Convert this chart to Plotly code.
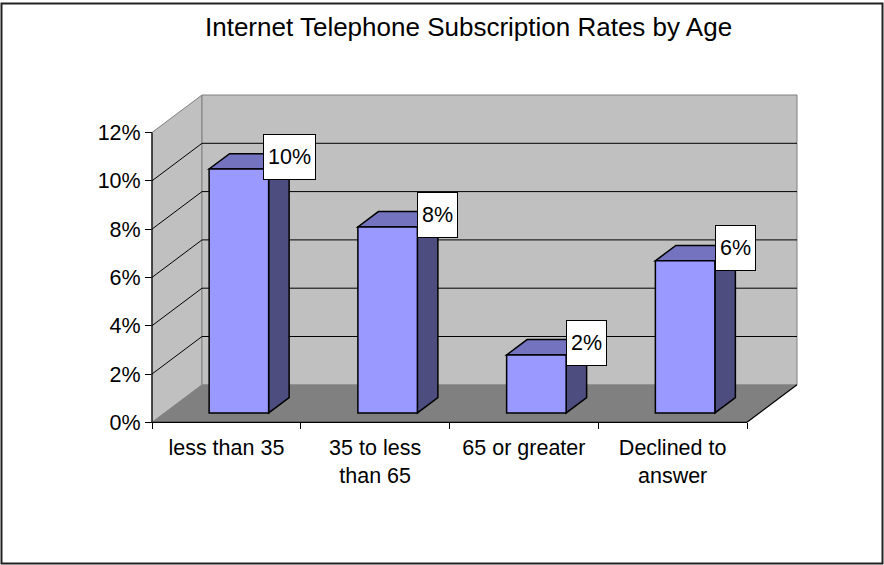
import plotly.graph_objects as go

# ---- data ----
categories = ["less than 35", "35 to less<br>than 65", "65 or greater", "Declined to<br>answer"]
values = [10.1, 7.7, 2.4, 6.3]          # percent
y_ticks = [0, 2, 4, 6, 8, 10, 12]
y_tick_labels = [f"{v}%" for v in y_ticks]
title_text = "Internet Telephone Subscription Rates by Age"

# ---- styling / geometry (pixels of the 884x565 canvas) ----
W, H = 884, 565
X0_PX = 152.0          # front-left edge of category axis
CAT_PX = 148.75        # pixels per category
Y0_PX = 422.3          # y of 0 on the front axis
UNIT_PX = 24.15        # pixels per 1 %
DEPTH_DX_PX, DEPTH_DY_PX = 50.0, 37.5
YMAX = 12
N = len(categories)

DX = DEPTH_DX_PX / CAT_PX      # depth offset in x data units
DY = DEPTH_DY_PX / UNIT_PX     # depth offset in y data units
F0, F1 = 0.25, 0.66            # bar front/back depth fractions
BAR_W = 0.4

FONT = "Liberation Sans, Arial, sans-serif"
TICK_SIZE = 21.5
C_WALL = "#C0C0C0"
C_FLOOR = "#808080"
C_EDGE = "#808080"
C_FRONT = "#9999FF"
C_TOP = "#7373BF"
C_SIDE = "#4D4D80"

x_range = [-X0_PX / CAT_PX, (W - X0_PX) / CAT_PX]
y_range = [-(H - Y0_PX) / UNIT_PX, Y0_PX / UNIT_PX]


def poly(pts):
    return "M " + " L ".join(f"{x:.5f},{y:.5f}" for x, y in pts) + " Z"


shapes = []
# side wall
shapes.append(dict(type="path", xref="x", yref="y",
                   path=poly([(0, 0), (0, YMAX), (DX, YMAX + DY), (DX, DY)]),
                   fillcolor=C_WALL, line=dict(color=C_EDGE, width=1)))
# back wall
shapes.append(dict(type="rect", xref="x", yref="y", x0=DX, y0=DY, x1=N + DX, y1=YMAX + DY,
                   fillcolor=C_WALL, line=dict(color=C_EDGE, width=1)))
# floor
shapes.append(dict(type="path", xref="x", yref="y",
                   path=poly([(0, 0), (N, 0), (N + DX, DY), (DX, DY)]),
                   fillcolor=C_FLOOR, line=dict(width=0)))
# gridlines
for v in y_ticks[1:-1]:
    shapes.append(dict(type="line", xref="x", yref="y", x0=DX, y0=v + DY, x1=N + DX, y1=v + DY,
                       line=dict(color="black", width=1)))
    shapes.append(dict(type="line", xref="x", yref="y", x0=0, y0=v, x1=DX, y1=v + DY,
                       line=dict(color="black", width=1)))
# axis lines
shapes.append(dict(type="line", xref="x", yref="y", x0=0, y0=0, x1=0, y1=YMAX,
                   line=dict(color="black", width=1.2)))
shapes.append(dict(type="line", xref="x", yref="y", x0=0, y0=0, x1=N, y1=0,
                   line=dict(color="black", width=1.2)))
shapes.append(dict(type="line", xref="x", yref="y", x0=N, y0=0, x1=N + DX, y1=DY,
                   line=dict(color="black", width=1.2)))

annotations = []
for i, v in enumerate(values):
    c = i + 0.5
    xl0 = c - BAR_W / 2 + F0 * DX
    xr0 = c + BAR_W / 2 + F0 * DX
    xl1 = c - BAR_W / 2 + F1 * DX
    xr1 = c + BAR_W / 2 + F1 * DX
    yb0, yt0 = F0 * DY, v + F0 * DY
    yb1, yt1 = F1 * DY, v + F1 * DY
    edge = dict(color="black", width=1.5)
    # side face
    shapes.append(dict(type="path", xref="x", yref="y",
                       path=poly([(xr0, yb0), (xr0, yt0), (xr1, yt1), (xr1, yb1)]),
                       fillcolor=C_SIDE, line=edge))
    # top face
    shapes.append(dict(type="path", xref="x", yref="y",
                       path=poly([(xl0, yt0), (xr0, yt0), (xr1, yt1), (xl1, yt1)]),
                       fillcolor=C_TOP, line=edge))
    # front face
    shapes.append(dict(type="rect", xref="x", yref="y", x0=xl0, y0=yb0, x1=xr0, y1=yt0,
                       fillcolor=C_FRONT, line=edge))
    # data label
    annotations.append(dict(x=xr1, y=yt1, xref="x", yref="y", text=f"{round(v)}%",
                            showarrow=False, xanchor="center", yanchor="middle", yshift=-3,
                            font=dict(family=FONT, size=TICK_SIZE, color="black"),
                            bgcolor="white", bordercolor="black", borderwidth=1,
                            borderpad=4, height=36))

# title
annotations.append(dict(x=468 / W, y=1 - 27 / H, xref="paper", yref="paper", text=title_text,
                        showarrow=False, xanchor="center", yanchor="middle",
                        font=dict(family=FONT, size=26, color="black")))

# outer border
shapes.append(dict(type="rect", xref="paper", yref="paper",
                   x0=1.5 / W, y0=1 - 563.5 / H, x1=882.5 / W, y1=1 - 3.5 / H,
                   line=dict(color="#222222", width=2), fillcolor="rgba(0,0,0,0)"))

fig = go.Figure()
fig.add_trace(go.Scatter(x=[i + 0.5 for i in range(N)], y=values, mode="markers",
                         marker=dict(opacity=0), hoverinfo="skip", showlegend=False))

fig.update_layout(
    width=W, height=H, margin=dict(l=0, r=0, t=0, b=0),
    paper_bgcolor="white", plot_bgcolor="white",
    shapes=shapes, annotations=annotations, showlegend=False,
    font=dict(family=FONT, size=TICK_SIZE, color="black"),
    xaxis=dict(range=x_range, anchor="free", position=(H - Y0_PX) / H,
               tickmode="array", tickvals=[i + 0.5 for i in range(N)], ticktext=categories,
               ticks="outside", ticklen=6, tickcolor="rgba(0,0,0,0)",
               minor=dict(tickmode="array", tickvals=list(range(N + 1)), ticks="outside",
                          ticklen=6, tickcolor="black", showgrid=False),
               showgrid=False, zeroline=False, showline=False,
               tickfont=dict(family=FONT, size=TICK_SIZE, color="black"), fixedrange=True),
    yaxis=dict(range=y_range, anchor="free", position=X0_PX / W,
               tickmode="array", tickvals=y_ticks, ticktext=y_tick_labels,
               ticks="outside", ticklen=7, tickcolor="black",
               showgrid=False, zeroline=False, showline=False,
               tickfont=dict(family=FONT, size=TICK_SIZE, color="black"), fixedrange=True),
)

fig.write_html("out.html")
